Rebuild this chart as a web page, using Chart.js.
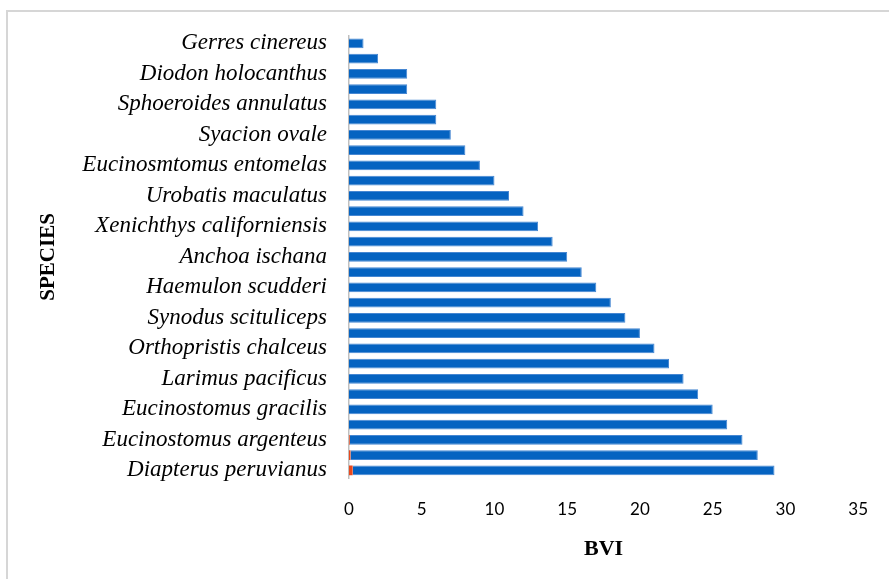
<!DOCTYPE html>
<html>
<head>
<meta charset="utf-8">
<script src="https://cdn.jsdelivr.net/npm/chart.js@4"></script>
<style>
  html, body { margin: 0; padding: 0; background: #fff; overflow: hidden; }
  #wrap { position: relative; width: 889px; height: 579px; }
  #frame { position: absolute; left: 6px; top: 10px; width: 900px; height: 600px; border: 2px solid #D6D6D6; box-sizing: border-box; }
  canvas { position: absolute; left: 0; top: 0; }
</style>
</head>
<body>
<div id="wrap">
  <div id="frame"></div>
  <canvas id="c" width="889" height="579"></canvas>
</div>
<script>
const species = [
  'Gerres cinereus', '',
  'Diodon holocanthus', '',
  'Sphoeroides annulatus', '',
  'Syacion ovale', '',
  'Eucinosmtomus entomelas', '',
  'Urobatis maculatus', '',
  'Xenichthys californiensis', '',
  'Anchoa ischana', '',
  'Haemulon scudderi', '',
  'Synodus scituliceps', '',
  'Orthopristis chalceus', '',
  'Larimus pacificus', '',
  'Eucinostomus gracilis', '',
  'Eucinostomus argenteus', '',
  'Diapterus peruvianus'
];
const bviValues = [1, 2, 4, 4, 6, 6, 7, 8, 9, 10, 11, 12, 13, 14, 15, 16, 17, 18, 19, 20, 21, 22, 23, 24, 25, 26, 27, 28, 29];
const secondValues = [0, 0, 0, 0, 0, 0, 0, 0, 0, 0, 0, 0, 0, 0, 0, 0, 0, 0, 0, 0, 0, 0, 0, 0, 0, 0, 0.05, 0.1, 0.25];
const xTicks = [0, 5, 10, 15, 20, 25, 30, 35];

new Chart(document.getElementById('c'), {
  type: 'bar',
  data: {
    labels: species,
    datasets: [
      { label: 'Series 2', data: secondValues, backgroundColor: '#E8491E', borderWidth: 0, categoryPercentage: 1, barPercentage: 0.64 },
      { label: 'BVI', data: bviValues, backgroundColor: '#0563C1', borderColor: 'rgba(70,135,210,1)', borderWidth: 1, categoryPercentage: 1, barPercentage: 0.64 }
    ]
  },
  options: {
    indexAxis: 'y',
    responsive: false,
    animation: false,
    devicePixelRatio: 1,
    layout: { padding: { top: 34, right: 29, bottom: 0, left: 0 } },
    plugins: { legend: { display: false }, tooltip: { enabled: false } },
    scales: {
      x: {
        stacked: true,
        min: 0, max: 35,
        afterBuildTicks: (s) => { s.ticks = xTicks.map(v => ({ value: v })); },
        afterFit: (s) => { s.height = 101; },
        grid: { display: false, drawTicks: false },
        border: { display: false },
        ticks: { color: '#000', font: { family: 'Lato', size: 17 }, padding: 21 },
        title: { display: true, text: 'BVI', color: '#000', font: { family: 'Liberation Serif', size: 22, weight: 'bold' }, padding: { top: 0, bottom: 16.8 } }
      },
      y: {
        stacked: true,
        afterFit: (s) => { s.width = 349; },
        grid: { display: false, drawTicks: false },
        border: { display: true, color: '#BFBFBF', width: 1.5 },
        ticks: { autoSkip: false, color: '#000', font: { family: 'Liberation Serif', size: 23, style: 'italic' }, padding: 22 },
        title: { display: true, text: 'SPECIES', color: '#000', font: { family: 'Liberation Serif', size: 21, weight: 'bold' }, padding: { top: 36, bottom: 0 } }
      }
    }
  }
});
</script>
</body>
</html>
